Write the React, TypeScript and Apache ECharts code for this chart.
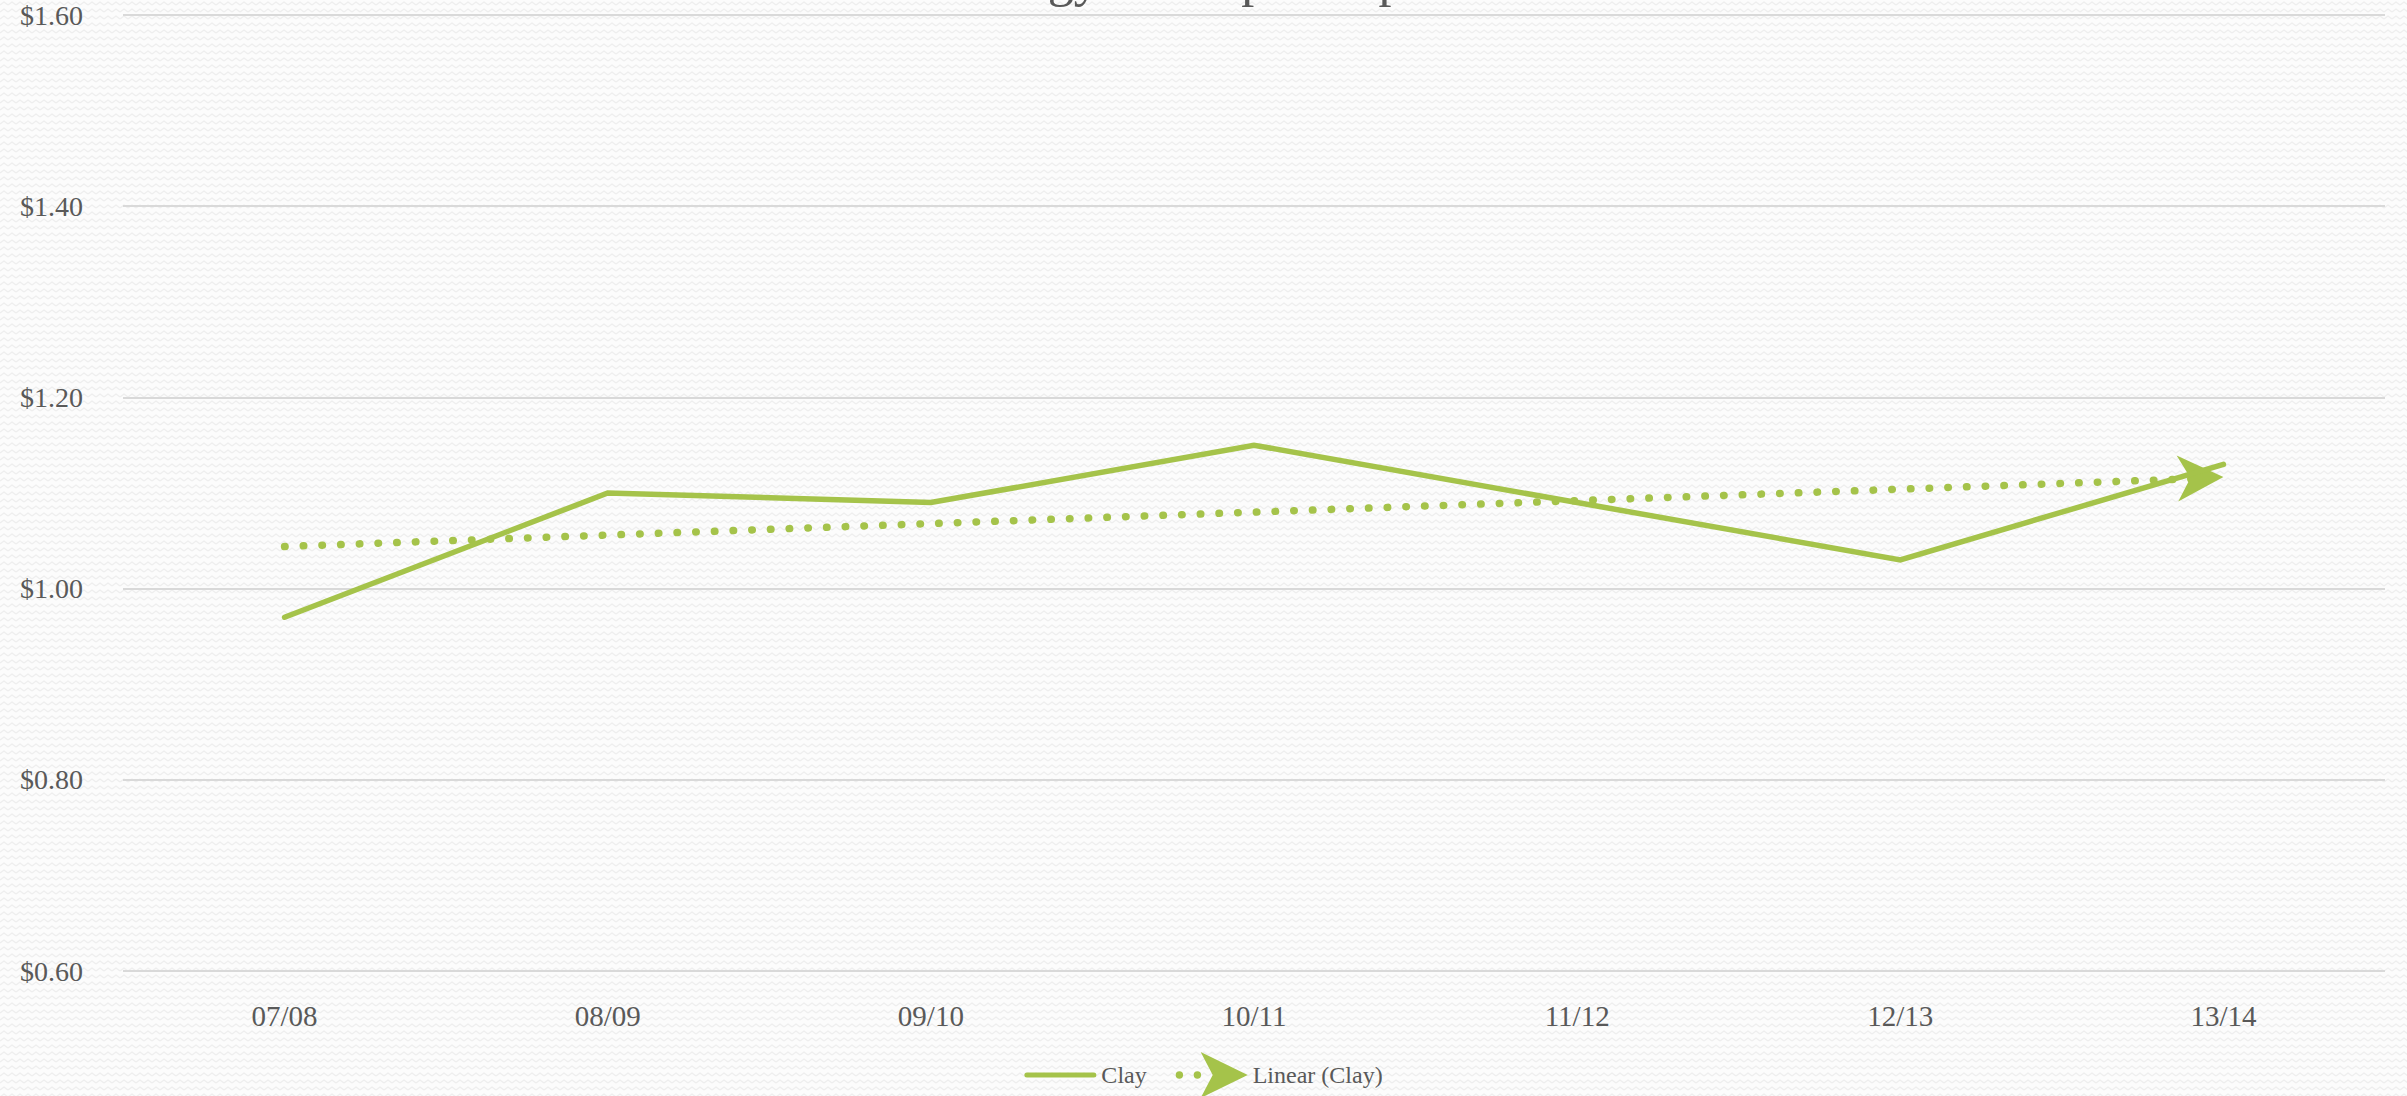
import React, { useEffect, useRef } from "react";
import * as echarts from "echarts";

const categories = ["07/08", "08/09", "09/10", "10/11", "11/12", "12/13", "13/14"];
const clayValues = [0.97, 1.1, 1.09, 1.15, 1.09, 1.03, 1.13];
const trendValues = [1.044, 1.056, 1.068, 1.08, 1.092, 1.104, 1.116];
const yTickValues = [0.6, 0.8, 1.0, 1.2, 1.4, 1.6];
const seriesNames = ["Clay", "Linear (Clay)"];
const titleText = "Energy Costs per Capita";

const GREEN = "#A5C34A";
const TEXT = "#595959";
const FONT = "'Liberation Serif', 'Times New Roman', serif";

const ARROW = "path://M0,0 L46,23 L0,46 L13,23 Z";
const CLAY_ICON =
  "path://M2.5,0 L69.5,0 A2.5,2.5 0 0,1 69.5,5 L2.5,5 A2.5,2.5 0 0,1 2.5,0 Z";
const TREND_ICON =
  "path://M0,23 A3.7,3.7 0 1,0 7.4,23 A3.7,3.7 0 1,0 0,23 Z M18,23 A3.7,3.7 0 1,0 25.4,23 A3.7,3.7 0 1,0 18,23 Z M25,0 L72,23 L25,46 L37,23 Z";

const bgSvg =
  "<svg xmlns='http://www.w3.org/2000/svg' width='8' height='7'><rect width='8' height='7' fill='#fcfcfc'/><polyline points='0,5 4,2 8,5' fill='none' stroke='#eeeeee' stroke-width='1.2'/></svg>";
const bgUrl = `url("data:image/svg+xml,${encodeURIComponent(bgSvg)}")`;

export default function App() {
  const ref = useRef<HTMLDivElement>(null);

  useEffect(() => {
    if (!ref.current) return;
    const chart = echarts.init(ref.current, null, { renderer: "svg" });
    const yStep = yTickValues[1] - yTickValues[0];
    const trendData = trendValues.map((v, i) =>
      i === trendValues.length - 1
        ? {
            value: v,
            symbol: ARROW,
            symbolSize: [46, 46],
            symbolOffset: [-23, 0],
            symbolRotate: 2,
          }
        : { value: v, symbol: "none" }
    );
    chart.setOption({
      animation: false,
      backgroundColor: "transparent",
      textStyle: { fontFamily: FONT },
      title: {
        text: titleText,
        left: "center",
        top: -53,
        textStyle: { fontSize: 52, fontWeight: "normal", color: TEXT, fontFamily: FONT },
      },
      grid: { left: 123, right: 22, top: 15, bottom: 125, containLabel: false },
      legend: {
        left: "center",
        top: 1047,
        itemWidth: 72,
        itemHeight: 46,
        itemGap: 29,
        itemStyle: { borderWidth: 0 },
        textStyle: { fontSize: 24, color: TEXT, fontFamily: FONT },
        data: [
          { name: seriesNames[0], icon: CLAY_ICON },
          { name: seriesNames[1], icon: TREND_ICON },
        ],
      },
      xAxis: {
        type: "category",
        data: categories,
        boundaryGap: true,
        axisLine: { show: false },
        axisTick: { show: false },
        axisLabel: { fontSize: 29, color: TEXT, fontFamily: FONT, margin: 30 },
      },
      yAxis: {
        type: "value",
        min: yTickValues[0],
        max: yTickValues[yTickValues.length - 1],
        interval: yStep,
        axisLine: { show: false },
        axisTick: { show: false },
        axisLabel: {
          fontSize: 28,
          color: TEXT,
          fontFamily: FONT,
          margin: 40,
          formatter: (v: number) => "$" + v.toFixed(2),
        },
        splitLine: { lineStyle: { color: "#d9d9d9", width: 2 } },
      },
      series: [
        {
          name: seriesNames[0],
          type: "line",
          data: clayValues,
          symbol: "none",
          showSymbol: false,
          color: GREEN,
          lineStyle: { color: GREEN, width: 5.5, cap: "round", join: "miter" },
          z: 3,
        },
        {
          name: seriesNames[1],
          type: "line",
          data: trendData,
          showSymbol: true,
          color: GREEN,
          itemStyle: { color: GREEN, borderWidth: 0 },
          lineStyle: { color: GREEN, width: 7.5, type: [0.5, 18.2], cap: "round" },
          z: 2,
        },
      ],
    });
    return () => chart.dispose();
  }, []);

  return (
    <div
      ref={ref}
      style={{
        position: "fixed",
        left: 0,
        top: 0,
        width: 2407,
        height: 1096,
        backgroundColor: "#fcfcfc",
        backgroundImage: bgUrl,
      }}
    />
  );
}
